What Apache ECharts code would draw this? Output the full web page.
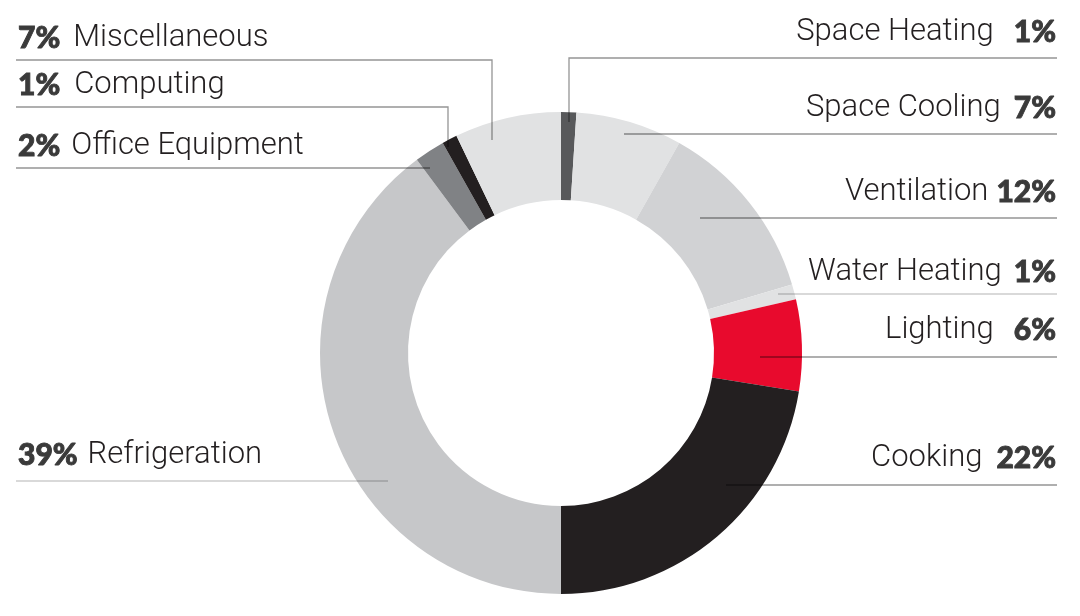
<!DOCTYPE html>
<html>
<head>
<meta charset="utf-8">
<script src="https://cdn.jsdelivr.net/npm/echarts@6/dist/echarts.min.js"></script>
<style>
html,body{margin:0;padding:0;background:#fff;}
#chart{width:1080px;height:616px;}
</style>
</head>
<body>
<div id="chart"></div>
<script>
// ---- data ----
var categories = ['Space Heating','Space Cooling','Ventilation','Water Heating','Lighting','Cooking','Refrigeration','Office Equipment','Computing','Miscellaneous'];
var shares = [1, 7, 12, 1, 6, 22, 39, 2, 1, 7];

// ---- styles / layout (not data) ----
var colors = ['#58595b','#e1e2e3','#d1d2d4','#e1e2e3','#e80a2d','#231f20','#c6c7c9','#808285','#231f20','#e1e2e3'];
// side, text baseline y, leader points, gap between name and percent
var labelPlace = [
  {side:'r', base:42,  gap:20, pts:[[569,122],[569,58],[1057,58]]},
  {side:'r', base:118, gap:13, pts:[[624,134],[624,134],[1057,134]]},
  {side:'r', base:202, gap:8,  pts:[[700,218],[700,218],[1057,218]]},
  {side:'r', base:282, gap:12, pts:[[778,294],[778,294],[1057,294]], light:true},
  {side:'r', base:340, gap:20, pts:[[760,357],[760,357],[1057,357]]},
  {side:'r', base:468, gap:14, pts:[[726,485],[726,485],[1057,485]]},
  {side:'l', base:465, gap:10, pts:[[388,481],[388,481],[16,481]], light:true},
  {side:'l', base:156, gap:11, pts:[[430,168],[430,168],[16,168]]},
  {side:'l', base:95,  gap:14, pts:[[448,147],[448,107],[16,107]]},
  {side:'l', base:48,  gap:13, pts:[[492,140],[492,60],[16,60]]}
];

var chart = echarts.init(document.getElementById('chart'), null, {renderer:'canvas'});

var sliceData = categories.map(function (name, i) {
  return {name: name, value: shares[i], itemStyle: {color: colors[i]}};
});

var labelData = categories.map(function (name, i) {
  return {
    name: name,
    value: shares[i],
    itemStyle: {color: 'rgba(0,0,0,0)'},
    label: {
      rich: {
        p: {padding: labelPlace[i].side === 'r' ? [0, 0, 0, labelPlace[i].gap] : [0, labelPlace[i].gap, 0, 0]}
      }
    },
    labelLine: {lineStyle: {color: labelPlace[i].light ? 'rgba(0,0,0,0.2)' : 'rgba(0,0,0,0.42)', width: 1.3}}
  };
});

var pctStyle = {fontFamily: 'Lato', fontWeight: 900, fontSize: 30, color: '#3a3a3a', lineHeight: 34,
                textBorderColor: '#3a3a3a', textBorderWidth: 0.9};
var common = {
  type: 'pie',
  center: [561, 353],
  radius: [153, 241],
  startAngle: 90,
  clockwise: true,
  avoidLabelOverlap: false,
  itemStyle: {borderWidth: 0},
  emphasis: {disabled: true},
  silent: true
};

var option = {
  backgroundColor: '#ffffff',
  animation: false,
  series: [
    Object.assign({}, common, {
      z: 2,
      data: sliceData,
      label: {show: false},
      labelLine: {show: false}
    }),
    Object.assign({}, common, {
      z: 5,
      data: labelData,
      label: {
        show: true,
        position: 'outside',
        formatter: function (p) {
          var place = labelPlace[p.dataIndex];
          if (place.side === 'r') return '{n|' + p.name + '}{p|' + p.value + '%}';
          return '{p|' + p.value + '%}{n|' + p.name + '}';
        },
        rich: {
          n: {fontFamily: 'Roboto', fontWeight: 300, fontSize: 31, color: '#231f20', lineHeight: 34},
          p: pctStyle
        }
      },
      labelLine: {show: true, showAbove: true, length: 10, length2: 10},
      labelLayout: function (params) {
        var place = labelPlace[params.dataIndex];
        return {
          x: place.side === 'r' ? 1056 : 18,
          y: place.base - 10,
          align: place.side === 'r' ? 'right' : 'left',
          verticalAlign: 'middle',
          labelLinePoints: place.pts
        };
      }
    })
  ]
};
chart.setOption(option);
</script>
</body>
</html>
